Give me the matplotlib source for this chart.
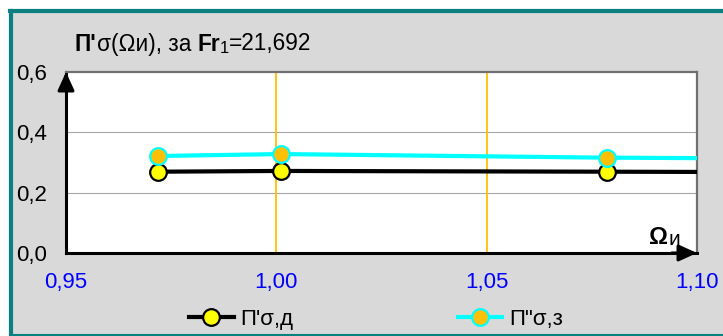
import matplotlib
matplotlib.use("Agg")
import matplotlib.pyplot as plt
from matplotlib.patches import Rectangle
from matplotlib.lines import Line2D

plt.rcParams['font.family'] = ['Liberation Sans', 'DejaVu Sans']

# данные
omega = [0.9718, 1.0012, 1.0785, 1.15]
p_d = [0.2695, 0.272, 0.2695, 0.267]
p_z = [0.3215, 0.328, 0.316, 0.311]
x_ticks = [0.95, 1.00, 1.05, 1.10]
x_labels = ['0,95', '1,00', '1,05', '1,10']
y_ticks = [0.0, 0.2, 0.4, 0.6]
y_labels = ['0,0', '0,2', '0,4', '0,6']

W, H = 723, 336
fig = plt.figure(figsize=(W / 100, H / 100), dpi=100, facecolor='white')

# серый фон с рамкой
fig.patches.append(Rectangle((11 / W, 0), 1, 325 / H, transform=fig.transFigure,
                             facecolor='#D9D9D9', edgecolor='none', zorder=-2))
fig.lines.append(Line2D([11 / W, 11 / W], [0, 325 / H], transform=fig.transFigure,
                        color='#0B8080', lw=3))
fig.lines.append(Line2D([9.5 / W, 1], [325 / H, 325 / H], transform=fig.transFigure,
                        color='#0B8080', lw=3))
fig.lines.append(Line2D([9.5 / W, 1], [1 / H, 1 / H], transform=fig.transFigure,
                        color='#0B8080', lw=1.5))

ax = fig.add_axes([66 / W, 83 / H, 631 / W, 181 / H])
ax.set_facecolor('white')
ax.set_xlim(0.95, 1.10)
ax.set_ylim(0, 0.6)

for y in [0.2, 0.4]:
    ax.axhline(y, color='#A6A6A6', lw=0.8, zorder=1)
for x in [1.00, 1.05]:
    ax.axvline(x, color='#FFC000', lw=1.3, zorder=1)

ax.plot(omega, p_d, color='black', lw=3, marker='o', ms=12,
        mfc='#FFFF00', mec='black', mew=1.6, zorder=3, label="П'σ,д")
ax.plot(omega, p_z, color='#00FFFF', lw=3, marker='o', ms=12,
        mfc='#FFC000', mec='#00FFFF', mew=1.6, zorder=3, label='П"σ,з')

ax.set_xticks(x_ticks)
ax.set_xticklabels(x_labels, color='#0000FF', fontsize=16)
ax.set_yticks(y_ticks)
ax.set_yticklabels(y_labels, fontsize=16)
ax.tick_params(axis='x', length=0, pad=14)
ax.tick_params(axis='y', length=0, pad=14)

ax.spines['left'].set_color('black')
ax.spines['left'].set_linewidth(2.2)
ax.spines['bottom'].set_color('black')
ax.spines['bottom'].set_linewidth(2.2)
ax.spines['top'].set_color('#707070')
ax.spines['top'].set_linewidth(1.6)
ax.spines['right'].set_color('#707070')
ax.spines['right'].set_linewidth(1.6)

# стрелки осей
ax.annotate('', xy=(0, 1.0), xytext=(0, 0.9), xycoords='axes fraction',
            arrowprops=dict(arrowstyle='-|>,head_length=1.1,head_width=0.5',
                            color='black', lw=2.2, shrinkA=0, shrinkB=0),
            annotation_clip=False)
ax.annotate('', xy=(1.0, 0), xytext=(0.96, 0), xycoords='axes fraction',
            arrowprops=dict(arrowstyle='-|>,head_length=1.1,head_width=0.5',
                            color='black', lw=2.2, shrinkA=0, shrinkB=0),
            annotation_clip=False)

# подпись оси
t = fig.text(649 / W, (336 - 244) / H, 'Ω', fontsize=17, fontweight='bold',
             va='baseline')
ax.annotate('и', xy=(1, 0), xycoords=t, va='bottom', fontsize=15)

# заголовок
t1 = fig.text(75 / W, (336 - 51) / H, "П'", fontsize=16.3, fontweight='bold',
              va='baseline')
t2 = ax.annotate('σ(Ωи), за ', xy=(1, 0), xycoords=t1, va='bottom', fontsize=16.3)
t3 = ax.annotate('Fr', xy=(1, 0), xycoords=t2, va='bottom', fontsize=16.3,
                 fontweight='bold')
t4 = ax.annotate('1', xy=(1, 0), xycoords=t3, va='bottom', fontsize=12)
ax.annotate('=21,692', xy=(1, 0.06), xycoords=t4, va='bottom', fontsize=16.3)

fig.legend(loc='center', bbox_to_anchor=(376 / W, (336 - 319) / H), ncol=2,
           frameon=False, fontsize=16, handlelength=2.0, handletextpad=0.3,
           columnspacing=7.4, borderaxespad=0)

fig.savefig('out.png', dpi=100, facecolor=fig.get_facecolor())
